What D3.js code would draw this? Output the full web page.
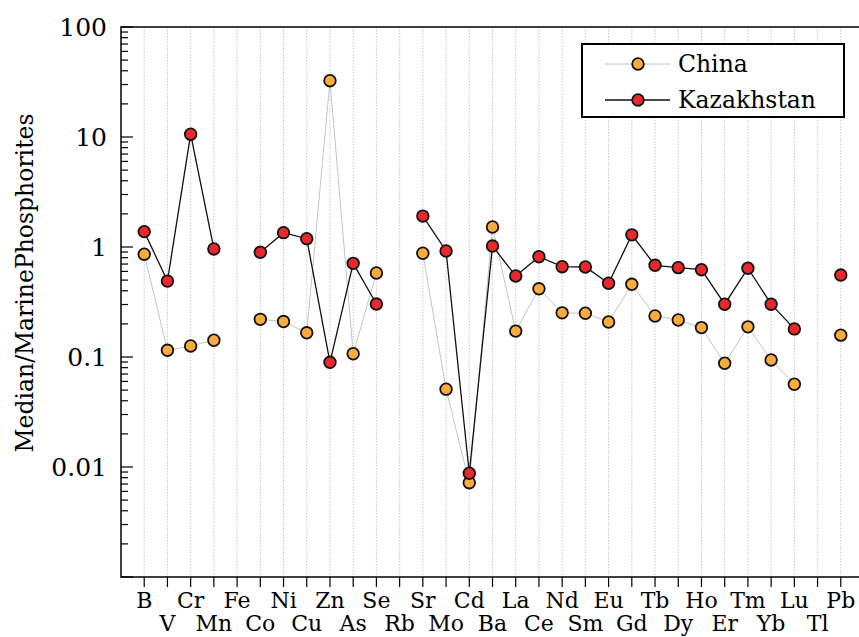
<!DOCTYPE html>
<html>
<head>
<meta charset="utf-8">
<script src="https://cdn.jsdelivr.net/npm/d3@7"></script>
<style>
  body { margin: 0; background: #fff; }
</style>
</head>
<body>
<svg id="chart"></svg>
<script>
// elements along the x axis (Fe, Rb, Tl have no data)
const elements = ['B', 'V', 'Cr', 'Mn', 'Fe', 'Co', 'Ni', 'Cu', 'Zn', 'As', 'Se', 'Rb', 'Sr', 'Mo', 'Cd', 'Ba',
  'La', 'Ce', 'Nd', 'Sm', 'Eu', 'Gd', 'Tb', 'Dy', 'Ho', 'Er', 'Tm', 'Yb', 'Lu', 'Tl', 'Pb'];

const china = [0.86, 0.115, 0.126, 0.142, null, 0.22, 0.21, 0.166, 32.5, 0.107, 0.58, null, 0.877, 0.051, 0.0072, 1.52,
  0.172, 0.417, 0.252, 0.25, 0.208, 0.458, 0.236, 0.217, 0.185, 0.0877, 0.188, 0.094, 0.0565, null, 0.158];

const kazakhstan = [1.38, 0.49, 10.6, 0.96, null, 0.895, 1.35, 1.19, 0.0895, 0.71, 0.303, null, 1.91, 0.92, 0.00877, 1.02,
  0.545, 0.816, 0.662, 0.658, 0.468, 1.29, 0.682, 0.649, 0.622, 0.302, 0.641, 0.302, 0.18, null, 0.556];

const yLabels = [100, 10, 1, 0.1, 0.01];

const series = [
  { name: 'China', values: china, line: '#c4c4c4', lineWidth: 1, fill: '#f9ab3c' },
  { name: 'Kazakhstan', values: kazakhstan, line: '#111', lineWidth: 1.3, fill: '#e8282b' },
];

const width = 859, height = 637;
const plotL = 121, plotT = 27, plotB = 577, plotR = 864;

const svg = d3.select('#chart').attr('width', width).attr('height', height)
    .style('display', 'block')
    .style('font-family', 'DejaVu Serif');

const x = d3.scaleLinear().domain([0, elements.length + 1]).range([plotL, plotR]);
const y = d3.scaleLog().domain([0.001, 100]).range([plotB, plotT]);

// vertical dotted grid
svg.append('g').selectAll('line').data(elements).join('line')
    .attr('x1', (d, i) => x(i + 1)).attr('x2', (d, i) => x(i + 1))
    .attr('y1', plotT).attr('y2', plotB)
    .attr('stroke', '#c8c8c8').attr('stroke-width', 1).attr('stroke-dasharray', '1.5,1.5');

// y ticks (inside), majors longer
const yTicks = y.ticks();
svg.append('g').selectAll('line').data(yTicks).join('line')
    .attr('x1', plotL).attr('y1', d => y(d)).attr('y2', d => y(d))
    .attr('x2', d => Math.abs(Math.log10(d) - Math.round(Math.log10(d))) < 1e-9 ? plotL + 12 : plotL + 7)
    .attr('stroke', '#000').attr('stroke-width', 1.2);

svg.append('g').selectAll('text').data(yLabels).join('text')
    .attr('x', plotL - 14).attr('y', d => y(d)).attr('dy', '0.36em')
    .attr('text-anchor', 'end').attr('font-size', 25)
    .text(d => d);

// x ticks (outside)
svg.append('g').selectAll('line').data(elements).join('line')
    .attr('x1', (d, i) => x(i + 1)).attr('x2', (d, i) => x(i + 1))
    .attr('y1', plotB).attr('y2', plotB + 10)
    .attr('stroke', '#000').attr('stroke-width', 1.2);

svg.append('g').selectAll('text').data(elements).join('text')
    .attr('x', (d, i) => x(i + 1))
    .attr('y', (d, i) => i % 2 === 0 ? 608 : 631)
    .attr('text-anchor', 'middle').attr('font-size', 22)
    .text(d => d);

// frame
svg.append('path')
    .attr('d', `M${plotL},${plotT}H${plotR}V${plotB}H${plotL}Z`)
    .attr('fill', 'none').attr('stroke', '#000').attr('stroke-width', 1.5);

// y axis title
svg.append('text')
    .attr('transform', `translate(33,283) rotate(-90)`)
    .attr('text-anchor', 'middle').attr('font-size', 23.5)
    .text('Median/MarinePhosphorites');

// series
const line = d3.line()
    .defined(d => d != null)
    .x((d, i) => x(i + 1))
    .y(d => y(d));

series.forEach(s => {
  svg.append('path').datum(s.values)
      .attr('d', line)
      .attr('fill', 'none').attr('stroke', s.line).attr('stroke-width', s.lineWidth);
  svg.append('g').selectAll('circle')
      .data(s.values.map((v, i) => ({ v, i })).filter(d => d.v != null))
      .join('circle')
      .attr('cx', d => x(d.i + 1)).attr('cy', d => y(d.v))
      .attr('r', 5.8)
      .attr('fill', s.fill).attr('stroke', '#111').attr('stroke-width', 1.8);
});

// legend
const legend = svg.append('g');
legend.append('rect')
    .attr('x', 582).attr('y', 44).attr('width', 262).attr('height', 73)
    .attr('fill', '#fff').attr('stroke', '#000').attr('stroke-width', 2);
series.forEach((s, k) => {
  const ly = 64 + k * 36;
  legend.append('line').attr('x1', 605).attr('x2', 670).attr('y1', ly).attr('y2', ly)
      .attr('stroke', s.line).attr('stroke-width', s.lineWidth);
  legend.append('circle').attr('cx', 638).attr('cy', ly).attr('r', 5.8)
      .attr('fill', s.fill).attr('stroke', '#111').attr('stroke-width', 1.8);
  legend.append('text').attr('x', 678).attr('y', ly).attr('dy', '0.36em')
      .attr('font-size', 23.5).text(s.name);
});
</script>
</body>
</html>
